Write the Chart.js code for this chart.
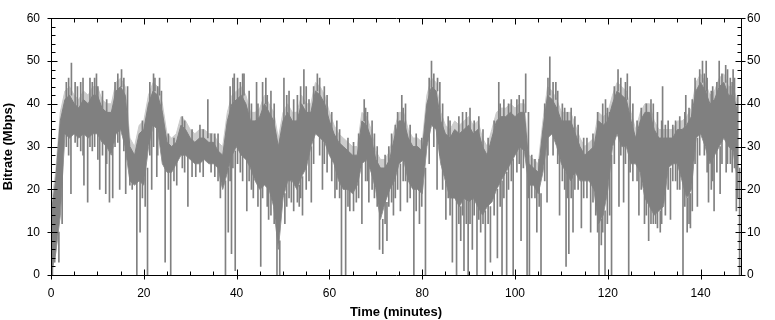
<!DOCTYPE html>
<html>
<head>
<meta charset="utf-8">
<script src="https://cdn.jsdelivr.net/npm/chart.js"></script>
<style>
  body { margin: 0; background: #fff; }
  #wrap { width: 775px; height: 320px; position: relative; }
</style>
</head>
<body>
<div id="wrap"><canvas id="bitrateChart"></canvas></div>
<script>
// band per minute (Mbps)
const darkLow = [
  0, 5, 14, 33, 32, 33, 32, 33, 32, 33, 33, 31, 30, 28, 33, 34, 30, 22, 21, 22,
  21, 30, 35, 34, 26, 24, 24, 26, 28, 28, 27, 26, 26, 27, 26, 26, 25, 20, 24, 28,
  30, 28, 27, 25, 22, 20, 21, 20, 16, 6, 18, 22, 22, 20, 23, 25, 30, 33, 32, 31,
  28, 26, 22, 20, 20, 19, 21, 26, 27, 24, 20, 13, 17, 20, 22, 26, 27, 22, 20, 20,
  19, 30, 35, 34, 26, 22, 18, 18, 16, 18, 17, 18, 16, 14, 16, 17, 20, 22, 24, 26,
  28, 30, 29, 21, 21, 19, 24, 32, 33, 30, 26, 24, 22, 24, 22, 22, 22, 20, 12, 14,
  20, 30, 33, 30, 30, 26, 26, 24, 18, 16, 14, 15, 16, 25, 26, 26, 22, 18, 20, 32,
  33, 30, 26, 28, 30, 32, 30, 29, 22
];
const darkHigh = [
  14, 22, 36, 41, 42, 40, 39, 41, 40, 42, 42, 39, 38, 38, 43, 44, 42, 30, 28, 33,
  34, 40, 43, 42, 38, 31, 30, 31, 35, 34, 32, 31, 32, 32, 31, 31, 29, 28, 36, 40,
  41, 42, 40, 36, 36, 37, 40, 38, 36, 30, 36, 38, 36, 36, 40, 38, 38, 43, 42, 40,
  36, 33, 31, 30, 29, 28, 28, 36, 35, 32, 27, 25, 25, 27, 32, 36, 36, 32, 30, 30,
  29, 40, 44, 43, 36, 33, 32, 34, 33, 34, 35, 33, 34, 30, 28, 32, 36, 37, 37, 38,
  37, 38, 38, 26, 25, 24, 34, 42, 41, 39, 36, 36, 36, 33, 30, 28, 29, 30, 36, 35,
  36, 40, 43, 42, 41, 36, 32, 36, 38, 38, 34, 32, 32, 32, 32, 34, 34, 35, 37, 43,
  45, 43, 40, 41, 44, 45, 42, 42, 38
];
const lightHigh = [
  16, 24, 38, 43, 44, 42, 41, 43, 42, 44, 44, 41, 40, 40, 45, 46, 44, 32, 30, 35,
  36, 42, 45, 44, 40, 33, 32, 33, 37, 36, 34, 33, 34, 34, 33, 33, 31, 30, 38, 42,
  43, 44, 42, 38, 38, 39, 42, 40, 38, 32, 38, 40, 38, 38, 42, 40, 40, 45, 44, 42,
  38, 35, 33, 32, 31, 30, 30, 38, 37, 34, 29, 27, 27, 29, 34, 38, 38, 34, 32, 32,
  31, 42, 46, 45, 38, 35, 34, 36, 35, 36, 37, 35, 36, 32, 30, 34, 38, 39, 39, 40,
  39, 40, 40, 28, 27, 26, 36, 44, 43, 41, 38, 38, 38, 35, 32, 30, 31, 32, 38, 37,
  38, 42, 45, 44, 43, 38, 34, 38, 40, 40, 36, 34, 34, 34, 34, 36, 36, 37, 39, 45,
  47, 45, 42, 43, 46, 47, 44, 44, 40
];

// short drops below the band: time (min), lowest value, where it rejoins the band
const dipTimes = [
  0.3, 0.8, 1.7, 2.4, 4.3, 7.1, 7.9, 10.5, 11.8, 12.6, 13.3, 14.8, 16.1, 17.0, 18.5, 19.2, 20.8, 21.7, 22.8, 24.6,
  25.8, 27.1, 29.5, 31.2, 36.5, 37.6, 38.2, 38.9, 39.7, 42.2, 43.6, 45.2, 46.9, 48.7, 49.3, 50.4, 51.8, 53.5, 54.2, 56.1,
  58.5, 61.2, 62.6, 63.5, 64.4, 65.8, 67.0, 68.5, 70.8, 71.5, 72.4, 73.8, 75.3, 76.8, 78.2, 79.4, 80.7, 83.2, 85.1, 86.5,
  87.4, 88.3, 89.0, 89.9, 90.8, 91.8, 92.6, 93.6, 94.7, 96.2, 97.2, 98.2, 99.6, 101.3, 102.6, 103.1, 104.7, 105.6, 106.9, 109.6,
  111.0, 111.6, 112.5, 114.3, 116.3, 117.4, 118.1, 118.6, 119.4, 120.8, 122.4, 123.4, 124.5, 126.7, 127.9, 128.8, 130.3, 131.3, 133.5, 135.0,
  136.2, 137.1, 137.8, 139.3, 141.7, 142.9, 144.2, 145.5, 147.7, 148.4
];
const dipLows = [
  0, 3, 3, 12, 19, 21, 17, 20, 19, 17, 18, 20, 19, 21, 0, 10, 0, 20, 23, 3,
  0, 21, 16, 23, 18, 0, 10, 5, 1, 15, 18, 2, 13, 0, 0, 12, 17, 16, 14, 17,
  20, 18, 0, 0, 15, 17, 12, 17, 6, 5, 8, 14, 15, 17, 0, 12, 0, 20, 13, 3,
  0, 8, 1, 0, 6, 0, 10, 0, 3, 4, 0, 0, 0, 8, 0, 0, 10, 0, 17, 14,
  2, 5, 10, 11, 10, 14, 0, 7, 0, 0, 16, 17, 0, 14, 12, 8, 12, 10, 13, 20,
  0, 10, 11, 16, 17, 15, 19, 24, 15, 0
];
const dipTops = [
  8, 10, 10, 30, 33, 34, 33, 33, 31, 30, 30, 34, 31, 24, 22, 23, 25, 34, 35, 26,
  25, 27, 28, 27, 26, 22, 25, 28, 29, 27, 24, 21, 21, 16, 8, 19, 22, 21, 23, 30,
  32, 26, 22, 20, 20, 21, 26, 27, 20, 13, 17, 22, 26, 25, 20, 20, 25, 34, 22, 18,
  18, 16, 18, 17, 18, 17, 16, 15, 16, 20, 22, 24, 27, 30, 29, 21, 21, 19, 32, 30,
  24, 24, 23, 22, 22, 20, 14, 13, 15, 28, 33, 30, 30, 25, 20, 17, 15, 15, 25, 26,
  22, 18, 19, 32, 28, 28, 30, 32, 29, 25
];

// short bursts above the band
const peakTimes = [
  4.4, 9.8, 15.2, 22.4, 23.4, 33.8, 39.5, 41.6, 44.3, 46.3, 50.2, 54.5, 57.4, 67.5, 75.6, 82.0,
  83.3, 96.5, 102.3, 107.5, 108.8, 119.5, 122.2, 124.2, 131.8, 136.8, 140.4, 141.2, 144.0, 145.4, 147.0
];
const peakHighs = [
  49.5, 47, 48, 46, 46, 41, 47, 47, 45, 46, 46, 48, 47, 41, 42, 50,
  46, 45, 47, 51, 45, 41, 48, 47, 44, 42, 50, 50, 50, 49, 48
];
const peakBases = [
  42, 42, 44, 43, 42, 32, 40, 42, 36, 40, 36, 40, 43, 36, 36, 44,
  43, 36, 38, 42, 41, 35, 43, 41, 32, 35, 45, 43, 44, 45, 42
];

// individual samples that stick out of both edges of the band
const burstTimes = [
  3.3, 3.8, 5.2, 5.7, 6.4, 6.9, 8.4, 8.9, 9.4, 10.1, 11.1, 12.0, 13.8, 14.4, 15.7, 16.5,
  17.5, 19.7, 20.3, 21.3, 22.1, 23.0, 23.8, 25.3, 26.5, 28.3, 28.8, 30.4, 32.1, 32.8, 34.5, 35.3, 36.0,
  38.6, 39.2, 40.2, 40.8, 41.3, 42.7, 43.2, 44.6, 45.6, 46.6, 47.4, 48.1, 50.8, 51.3, 52.3, 53.1, 53.8,
  55.0, 55.6, 56.6, 57.9, 58.9, 59.5, 60.5, 61.6, 62.2, 64.0, 65.2, 66.3, 67.8, 68.2, 69.2, 69.7, 70.3,
  72.0, 72.8, 73.4, 74.2, 74.7, 75.9, 76.4, 77.4, 78.7, 79.9, 81.5, 82.5, 83.8, 84.4, 85.6, 86.0, 87.9,
  88.7, 89.5, 90.3, 91.2, 92.2, 93.1, 94.2, 95.5, 96.8, 97.6, 98.6, 99.2, 100.4, 100.9, 101.8, 102.9,
  103.6, 104.3, 105.2, 106.4, 107.1, 108.2, 109.2, 110.2, 110.7, 111.3, 112.1, 112.9, 113.6, 114.8, 115.5,
  116.8, 117.8, 118.9, 119.9, 120.4, 121.4, 122.8, 123.8, 124.8, 125.4, 126.3, 127.2, 128.3, 129.3, 129.8,
  130.7, 131.6, 132.4, 133.0, 134.0, 134.6, 135.5, 136.6, 137.5, 138.2, 138.8, 139.8, 140.8, 141.4, 142.3,
  142.6, 143.5, 144.6, 145.8, 146.4, 146.8, 147.3, 148.0
];
const burstLows = [
  30, 28, 31, 30, 29, 28, 30, 29, 30, 27, 28, 26, 30, 31, 29, 27,
  20, 18, 16, 28, 30, 28, 30, 20, 22, 25, 24, 23, 24, 23, 24, 23, 22,
  22, 25, 26, 24, 22, 22, 20, 16, 18, 16, 14, 12, 16, 18, 15, 17, 18,
  20, 22, 26, 28, 26, 24, 22, 20, 18, 16, 15, 18, 22, 22, 20, 18, 16,
  12, 16, 17, 18, 20, 22, 22, 18, 15, 16, 26, 30, 28, 20, 18, 14, 12,
  14, 12, 12, 14, 13, 12, 12, 14, 16, 18, 20, 22, 24, 26, 25, 18,
  18, 18, 16, 22, 28, 28, 26, 22, 20, 18, 18, 20, 20, 18, 18,
  17, 10, 10, 12, 14, 26, 28, 26, 24, 22, 22, 20, 14, 12, 12,
  11, 12, 14, 20, 22, 22, 20, 16, 12, 15, 26, 28, 28, 24, 20,
  22, 24, 26, 26, 26, 24, 25, 18
];
const burstHighs = [
  45, 46, 45, 44, 45, 46, 46, 45, 46, 44, 43, 41, 45, 47, 46, 44,
  28, 36, 35, 45, 47, 44, 43, 33, 32, 37, 36, 34, 35, 34, 33, 33, 33,
  44, 46, 46, 45, 47, 43, 40, 40, 45, 42, 43, 40, 42, 43, 41, 42, 44,
  44, 41, 44, 46, 44, 42, 38, 36, 34, 32, 31, 33, 39, 38, 36, 33, 30,
  28, 30, 33, 35, 38, 39, 40, 35, 33, 32, 46, 47, 45, 40, 37, 36, 37,
  38, 38, 39, 36, 37, 34, 32, 36, 40, 41, 40, 41, 41, 42, 41, 38,
  28, 27, 27, 40, 46, 45, 43, 40, 39, 38, 39, 37, 35, 32, 32,
  33, 38, 40, 39, 38, 44, 46, 45, 44, 40, 36, 39, 40, 41, 40,
  38, 36, 35, 36, 35, 36, 37, 38, 39, 41, 46, 48, 47, 46, 43,
  44, 45, 47, 48, 46, 45, 46, 42
];

const xTicks = [0, 20, 40, 60, 80, 100, 120, 140];
const yTicks = [0, 10, 20, 30, 40, 50, 60];

const minutes = darkHigh.map((_, i) => i);
const toPoints = (vals) => vals.map((v, i) => ({ x: minutes[i], y: v }));
const toBars = (times, lows, highs) =>
  times.map((t, i) => ({ x: t, y: [lows[i], highs[i]] }));

const DARK = "#808080";
const LIGHT = "#cccccc";
const FONT = "'Liberation Sans', Arial, sans-serif";

// frame with inward ticks on all four sides
const frameTicks = {
  id: "frameTicks",
  afterDatasetsDraw(chart) {
    const { ctx, chartArea } = chart;
    const x = chart.scales.x;
    const y = chart.scales.y;
    const L = Math.round(chartArea.left) + 0.5;
    const R = Math.round(chartArea.right) + 0.5;
    const T = Math.round(chartArea.top) + 0.5;
    const B = Math.round(chartArea.bottom) + 0.5;
    ctx.save();
    ctx.strokeStyle = "#000";
    ctx.lineWidth = 1;
    ctx.beginPath();
    ctx.rect(L, T, R - L, B - T);
    for (let v = 0; v <= 60; v += 2) {
      const py = Math.round(y.getPixelForValue(v)) + 0.5;
      const major = v % 10 === 0;
      ctx.moveTo(major ? L - 4 : L, py);
      ctx.lineTo(L + (major ? 6 : 4), py);
      ctx.moveTo(major ? R + 4 : R, py);
      ctx.lineTo(R - (major ? 6 : 4), py);
    }
    for (let v = 0; v <= 145; v += 5) {
      const px = Math.round(x.getPixelForValue(v)) + 0.5;
      const major = v % 20 === 0;
      ctx.moveTo(px, major ? B + 4 : B);
      ctx.lineTo(px, B - (major ? 6 : 4));
      ctx.moveTo(px, T);
      ctx.lineTo(px, T + (major ? 6 : 4));
    }
    ctx.stroke();
    ctx.restore();
  },
};

const spikeStyle = {
  type: "bar",
  backgroundColor: DARK,
  barThickness: 1,
  grouped: false,
  order: 1,
};

const ctx = document.getElementById("bitrateChart").getContext("2d");
const bitrateChart = new Chart(ctx, {
  type: "line",
  data: {
    datasets: [
      { ...spikeStyle, data: toBars(dipTimes, dipLows, dipTops) },
      { ...spikeStyle, data: toBars(peakTimes, peakBases, peakHighs) },
      { ...spikeStyle, data: toBars(burstTimes, burstLows, burstHighs) },
      {
        data: toPoints(darkHigh),
        borderColor: DARK,
        borderWidth: 1,
        backgroundColor: DARK,
        pointRadius: 0,
        fill: 5,
        order: 2,
      },
      {
        data: toPoints(lightHigh),
        borderColor: LIGHT,
        borderWidth: 1,
        backgroundColor: LIGHT,
        pointRadius: 0,
        fill: 5,
        order: 3,
      },
      {
        data: toPoints(darkLow),
        borderColor: DARK,
        borderWidth: 1,
        pointRadius: 0,
        fill: false,
        order: 4,
      },
    ],
  },
  options: {
    responsive: true,
    maintainAspectRatio: false,
    animation: false,
    layout: { padding: { top: 13 } },
    plugins: {
      legend: { display: false },
      tooltip: { enabled: false },
    },
    scales: {
      x: {
        type: "linear",
        min: 0,
        max: 148.7,
        offset: false,
        grid: { display: false, drawTicks: false, offset: false },
        border: { display: false },
        ticks: {
          stepSize: 20,
          includeBounds: false,
          autoSkip: false,
          padding: 11,
          color: "#000",
          font: { family: FONT, size: 12 },
          callback: (v) => (xTicks.includes(v) ? String(v) : ""),
        },
        title: {
          display: true,
          text: "Time (minutes)",
          color: "#000",
          font: { family: FONT, size: 13, weight: "bold" },
          padding: { top: 0, bottom: 0 },
        },
        afterFit: (scale) => {
          scale.height = 45;
        },
      },
      y: {
        position: "left",
        min: 0,
        max: 60,
        grid: { display: false, drawTicks: false },
        border: { display: false },
        ticks: {
          stepSize: 10,
          padding: 11,
          color: "#000",
          font: { family: FONT, size: 12 },
          callback: (v) => (yTicks.includes(v) ? String(v) : ""),
        },
        title: {
          display: true,
          text: "Bitrate (Mbps)",
          color: "#000",
          font: { family: FONT, size: 13, weight: "bold" },
          padding: { top: 1, bottom: 0 },
        },
        afterFit: (scale) => {
          scale.width = 51;
        },
      },
      y2: {
        position: "right",
        min: 0,
        max: 60,
        grid: { display: false, drawTicks: false },
        border: { display: false },
        ticks: {
          stepSize: 10,
          padding: 6,
          color: "#000",
          font: { family: FONT, size: 12 },
          callback: (v) => (yTicks.includes(v) ? String(v) : ""),
        },
        afterFit: (scale) => {
          scale.width = 34;
        },
      },
    },
  },
  plugins: [frameTicks],
});
</script>
</body>
</html>
